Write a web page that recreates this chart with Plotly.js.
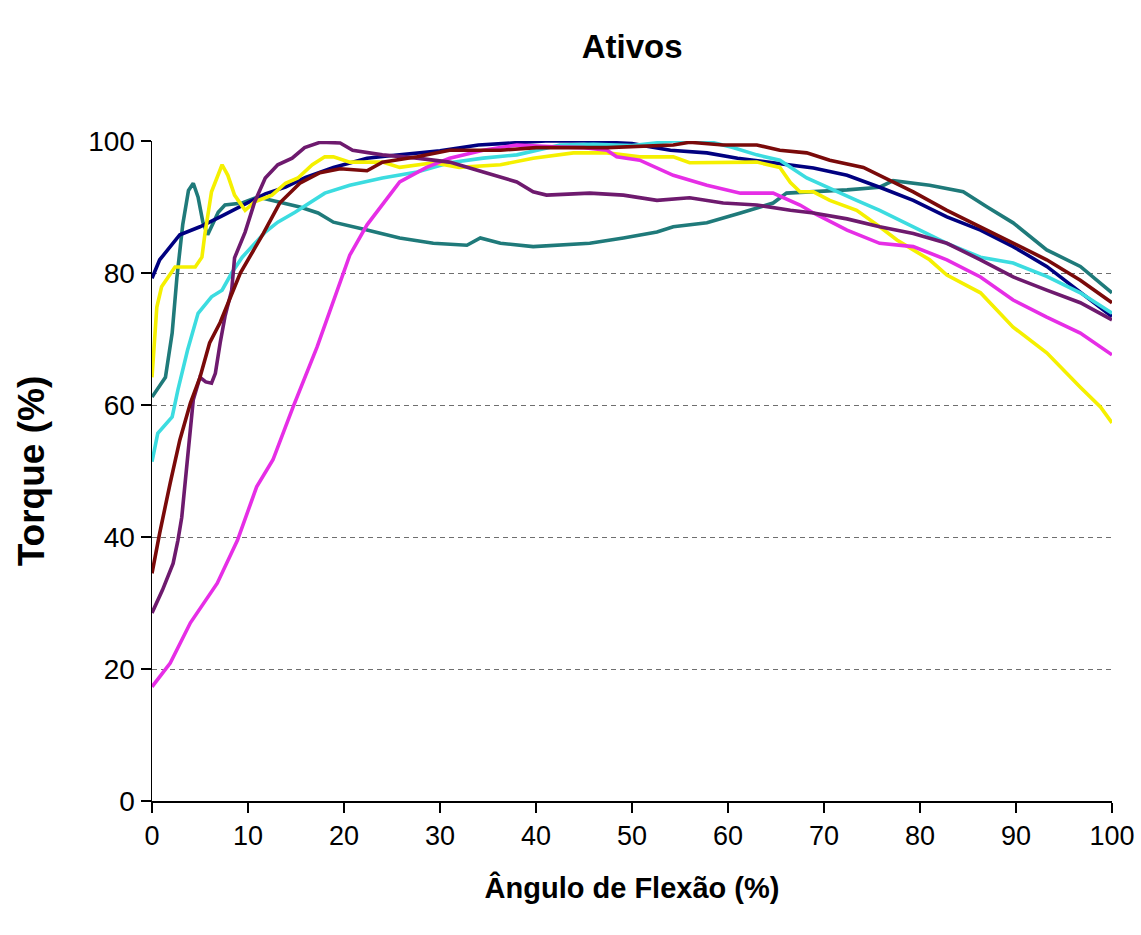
<!DOCTYPE html>
<html>
<head>
<meta charset="utf-8">
<script src="https://cdn.plot.ly/plotly-3.0.1.min.js"></script>
<style>html,body{margin:0;padding:0;background:#fff;}#chart{width:1141px;height:935px;}</style>
</head>
<body>
<div id="chart"></div>
<script>
// Torque (%) vs flexion angle (%) — seven subjects
const navyX = [0, 0.8, 2.9, 5, 7.1, 8.8, 11.8, 13.9, 16, 18.9, 22.4, 25, 30, 34, 41, 45, 50, 54, 57.8, 61, 64.7, 68.9, 72.4, 75.8, 79.3, 82.8, 86.3, 89.7, 93.2, 96.7, 100];
const navyY = [79.2, 82, 85.8, 87, 88.5, 89.8, 92, 93, 94.5, 96, 97.4, 97.8, 98.5, 99.4, 100, 100, 99.6, 98.6, 98.2, 97.4, 96.7, 95.9, 94.8, 93, 91, 88.5, 86.5, 84, 81, 77, 73.4];

const tealX = [0, 1.4, 2.1, 2.6, 3.2, 3.8, 4.3, 4.8, 5.3, 5.8, 6.9, 7.6, 9.4, 11, 13.1, 15.4, 17.3, 18.9, 22.4, 25.8, 29.3, 32.8, 34.2, 36.3, 39.7, 42.5, 45.6, 49.1, 52.6, 54.3, 57.8, 61.3, 64.7, 66.1, 68.9, 72.4, 75.8, 77.2, 81, 84.5, 87, 89.7, 93.2, 96.7, 100];
const tealY = [61.2, 64.2, 70.9, 79.4, 87.3, 92.5, 93.6, 91.5, 87.7, 85.8, 89.2, 90.3, 90.6, 91.5, 90.8, 90, 89.1, 87.7, 86.5, 85.3, 84.5, 84.2, 85.3, 84.5, 84, 84.2, 84.5, 85.3, 86.2, 87, 87.6, 89.1, 90.6, 92.1, 92.3, 92.6, 93, 94, 93.3, 92.3, 90, 87.6, 83.5, 81, 77];

const yellowX = [0, 0.5, 1, 2.4, 4.5, 5.2, 5.5, 6.2, 7.3, 7.9, 8.6, 9.7, 10.7, 12.5, 13.9, 15.2, 16.7, 18, 18.9, 20.6, 24, 25.8, 29.3, 32, 36.3, 39.7, 43.9, 47.4, 50.8, 54.3, 56, 59.5, 63, 65.4, 66.5, 67.5, 68.9, 70.6, 73.4, 75.8, 77.6, 79.3, 81, 82.8, 86.3, 89.7, 93.2, 96.7, 98.8, 100];
const yellowY = [64.2, 74.8, 77.9, 80.9, 80.9, 82.4, 85.8, 92.3, 96.4, 94.8, 91.8, 89.5, 90.8, 91.8, 93.6, 94.4, 96.4, 97.6, 97.6, 96.8, 96.8, 96, 96.7, 96, 96.4, 97.4, 98.2, 98.2, 97.6, 97.6, 96.7, 96.7, 96.8, 96, 93.7, 92.3, 92.3, 91, 89.5, 87, 85, 83.5, 82, 79.7, 77, 71.8, 67.9, 62.7, 59.7, 57.3];

const cyanX = [0, 0.6, 2.1, 2.7, 3.7, 4.8, 6.2, 7.3, 8.3, 9.4, 11.8, 13.1, 14.9, 16.7, 18, 20.6, 24, 27.6, 31, 34.5, 38, 42.5, 46, 50, 54.3, 57.8, 60.5, 63, 65.4, 68.2, 70.9, 73.4, 75.8, 79.3, 82.8, 86.3, 89.7, 93.2, 96.7, 100];
const cyanY = [51.4, 55.7, 58.2, 62.3, 68.3, 73.9, 76.4, 77.4, 80, 82.4, 86.2, 87.7, 89.2, 90.8, 92.1, 93.3, 94.4, 95.3, 96.7, 97.4, 97.9, 99.4, 99.5, 99.3, 100, 100, 99, 97.9, 97.1, 94.4, 92.6, 91, 89.5, 87, 84.5, 82.4, 81.5, 79.5, 77, 73.9];

const magentaX = [0, 1.9, 4, 6.8, 8.9, 10.9, 12.6, 14.7, 17.2, 18.9, 20.6, 22.4, 25.8, 28.6, 31, 34.5, 38, 42.5, 45, 47.4, 48.4, 50.8, 54.3, 57.8, 61.3, 64.7, 67.5, 68.9, 72.4, 75.8, 79.3, 82.8, 86.3, 89.7, 93.2, 96.7, 100];
const magentaY = [17.3, 20.9, 27, 33, 39.5, 47.6, 51.7, 59.7, 68.8, 75.9, 82.7, 87.3, 93.8, 96, 97.4, 98.6, 99.4, 99.1, 99, 98.6, 97.6, 97.1, 94.8, 93.3, 92.1, 92.1, 90.3, 89.1, 86.5, 84.5, 84, 82, 79.4, 75.9, 73.3, 70.9, 67.6];

const maroonX = [0, 0.8, 1.9, 2.9, 4, 5, 6, 7.1, 9.2, 11.6, 13.3, 15.4, 17.5, 19.6, 22.4, 24, 27.6, 31, 36.3, 40, 47.4, 54.3, 56, 59.5, 63, 65.4, 68.2, 70.6, 74.1, 76.9, 79.3, 82.8, 86.3, 89.7, 93.2, 96.7, 100];
const maroonY = [34.5, 40.6, 48.2, 54.7, 60.3, 64.2, 69.4, 72.5, 80, 86, 90.6, 93.6, 95.2, 95.8, 95.5, 96.8, 97.6, 98.6, 98.6, 99, 99, 99.4, 99.8, 99.4, 99.4, 98.6, 98.2, 97.1, 96, 94, 92.3, 89.5, 87, 84.5, 82, 78.9, 75.5];

const purpleX = [0, 1.1, 2.2, 2.7, 3.1, 3.4, 4, 4.3, 5, 5.6, 6.2, 6.6, 7.1, 7.6, 8.3, 8.6, 9.7, 10.7, 11.8, 13.1, 14.6, 15.9, 17.5, 19.6, 20.9, 24, 27.6, 31, 34.5, 38, 39.7, 41.1, 45.6, 49.1, 52.6, 56, 59.5, 63, 66.5, 68.9, 72.4, 75.8, 79.3, 82.8, 86.3, 89.7, 93.2, 96.7, 100];
const purpleY = [28.5, 32, 36, 39.5, 43, 47.6, 55.7, 60.8, 64.2, 63.5, 63.3, 64.8, 69.4, 73.4, 77.4, 82.3, 86.2, 90.8, 94.4, 96.4, 97.4, 99, 99.8, 99.7, 98.6, 97.9, 97.4, 96.8, 95.3, 93.8, 92.3, 91.8, 92.1, 91.8, 91, 91.4, 90.6, 90.3, 89.5, 89.1, 88.2, 87, 86, 84.5, 82, 79.4, 77.4, 75.5, 72.9];

const xTicks = [0, 10, 20, 30, 40, 50, 60, 70, 80, 90, 100];
const yTicks = [0, 20, 40, 60, 80, 100];

const FONT = 'Liberation Sans, Arial, sans-serif';
function tr(x, y, color) {
  return {x: x, y: y, type: 'scatter', mode: 'lines', line: {color: color, width: 3.6}, hoverinfo: 'skip', showlegend: false};
}
const data = [
  tr(tealX, tealY, '#1F7A7A'),
  tr(navyX, navyY, '#000080'),
  tr(cyanX, cyanY, '#3CDCE0'),
  tr(yellowX, yellowY, '#F5F000'),
  tr(magentaX, magentaY, '#E62EE6'),
  tr(purpleX, purpleY, '#6E1A6E'),
  tr(maroonX, maroonY, '#7A0A0A')
];
const layout = {
  width: 1141, height: 935,
  margin: {l: 152, r: 29, t: 141, b: 134},
  paper_bgcolor: '#ffffff', plot_bgcolor: '#ffffff',
  font: {family: FONT, color: '#000'},
  title: {text: 'Ativos', font: {family: FONT, size: 33, weight: 'bold', color: '#000'}, x: 0.554, xanchor: 'center', y: 0.95, yanchor: 'middle', xref: 'container', yref: 'container'},
  xaxis: {
    range: [0, 100], tickvals: xTicks, ticktext: xTicks.map(String),
    showgrid: false, zeroline: false, showline: true, linecolor: '#000', linewidth: 1.5,
    ticks: 'outside', ticklen: 10, tickcolor: '#000', tickwidth: 1.5,
    tickfont: {family: FONT, size: 27}, fixedrange: true,
    title: {text: 'Ângulo de Flexão (%)', font: {family: FONT, size: 29, weight: 'bold'}, standoff: 28}
  },
  yaxis: {
    range: [0, 100], tickvals: yTicks, ticktext: yTicks.map(String),
    showgrid: true, gridcolor: '#6f6f6f', gridwidth: 1, griddash: '5px,4px',
    zeroline: false, showline: true, linecolor: '#000', linewidth: 1.5,
    ticks: 'outside', ticklen: 10, tickcolor: '#000', tickwidth: 1.5,
    tickfont: {family: FONT, size: 28}, fixedrange: true,
    title: {text: 'Torque (%)', font: {family: FONT, size: 37, weight: 'bold'}, standoff: 32}
  }
};
Plotly.newPlot('chart', data, layout, {displayModeBar: false, staticPlot: true});
</script>
</body>
</html>
